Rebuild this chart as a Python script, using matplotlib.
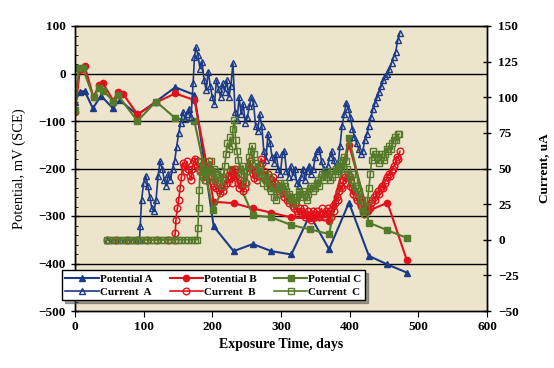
import matplotlib
matplotlib.use("Agg")
import matplotlib.pyplot as plt
from matplotlib.ticker import MultipleLocator

plt.rcParams['font.family'] = ['Liberation Serif', 'DejaVu Serif']

# potential readings (mV vs SCE)
pa_days = [0, 7, 14, 26, 38, 55, 65, 91, 118, 146, 174, 202, 231, 259, 286, 315, 342, 370, 399, 428, 455, 483]
pa_mv = [-60, -38, -37, -73, -47, -73, -56, -87, -59, -29, -45, -322, -374, -359, -374, -381, -298, -370, -272, -384, -402, -419]

pb_days = [0, 7, 14, 27, 35, 41, 56, 62, 70, 91, 118, 146, 174, 202, 231, 259, 286, 315, 342, 370, 399, 426, 455, 483]
pb_mv = [-82, 7, 16, -50, -24, -21, -58, -38, -43, -86, -61, -42, -56, -270, -273, -284, -293, -303, -305, -310, -150, -290, -272, -392]

pc_days = [0, 5, 11, 27, 35, 41, 56, 62, 91, 118, 146, 174, 201, 229, 259, 286, 315, 342, 370, 399, 428, 455, 483]
pc_mv = [-77, 12, 12, -50, -31, -36, -59, -45, -100, -59, -94, -101, -287, -200, -298, -303, -319, -328, -338, -136, -314, -330, -346]

# current readings (uA)
ca_days = [47, 55, 65, 75, 85, 94, 95, 97, 100, 103, 106, 109, 112, 115, 118, 121, 124, 127, 130, 133,
           136, 139, 142, 145, 148, 151, 154, 157, 160, 163, 166, 169, 172, 174, 176, 179, 182, 185, 188, 191,
           194, 197, 200, 203, 206, 209, 212, 215, 218, 221, 224, 227, 230, 233, 236, 239, 242, 245, 248, 251,
           254, 257, 260, 263, 266, 269, 272, 275, 278, 281, 284, 287, 290, 293, 296, 299, 302, 305, 308, 311,
           314, 317, 320, 323, 326, 329, 332, 335, 338, 341, 344, 347, 350, 353, 356, 359, 362, 365, 368, 371,
           374, 377, 380, 383, 386, 389, 392, 395, 398, 401, 404, 407, 410, 413, 416, 419, 422, 425, 428, 431,
           434, 437, 440, 443, 446, 449, 452, 455, 458, 461, 464, 467, 470, 473]
ca_ua = [0, 0, 0, 0, 0, 0, 10, 28, 40, 45, 38, 30, 22, 20, 28, 45, 55, 50, 42, 38,
         46, 42, 50, 55, 65, 75, 82, 90, 85, 88, 92, 86, 110, 128, 135, 130, 120, 125, 112, 105,
         118, 108, 100, 95, 112, 106, 100, 110, 104, 112, 100, 108, 124, 90, 84, 100, 88, 95, 82, 86,
         94, 100, 96, 80, 76, 88, 80, 62, 56, 74, 68, 58, 54, 60, 50, 46, 60, 62, 48, 44,
         52, 45, 50, 40, 38, 44, 50, 42, 48, 52, 46, 50, 58, 62, 64, 55, 50, 48, 52, 58,
         62, 56, 50, 52, 66, 80, 88, 96, 92, 86, 78, 72, 68, 64, 60, 62, 70, 74, 80, 86,
         92, 96, 100, 104, 108, 112, 115, 116, 120, 124, 128, 132, 140, 145]

cb_days = [47, 60, 75, 90, 105, 120, 135, 145, 146, 147, 149, 151, 153, 155, 157, 159, 161, 163, 165, 167,
           169, 171, 173, 175, 177, 179, 181, 183, 185, 187, 189, 191, 193, 195, 197, 199, 201, 203, 205, 207,
           209, 211, 213, 215, 217, 219, 221, 223, 225, 227, 229, 231, 233, 235, 237, 239, 241, 243, 245, 247,
           249, 251, 253, 255, 257, 259, 261, 263, 265, 267, 269, 271, 273, 275, 277, 279, 281, 283, 285, 287,
           289, 291, 293, 295, 297, 299, 301, 303, 305, 307, 309, 311, 313, 315, 317, 319, 321, 323, 325, 327,
           329, 331, 333, 335, 337, 339, 341, 343, 345, 347, 349, 351, 353, 355, 357, 359, 361, 363, 365, 367,
           369, 371, 373, 375, 377, 379, 381, 383, 385, 387, 389, 391, 393, 395, 397, 399, 401, 403, 405, 407,
           409, 411, 413, 415, 417, 419, 421, 423, 425, 427, 429, 431, 433, 435, 437, 439, 441, 443, 445, 447,
           449, 451, 453, 455, 457, 459, 461, 463, 465, 467, 469, 471, 473]
cb_ua = [0, 0, 0, 0, 0, 0, 0, 0, 5, 14, 22, 28, 36, 44, 54, 52, 48, 55, 50, 45,
         42, 50, 55, 57, 52, 55, 50, 52, 46, 44, 42, 48, 52, 55, 50, 45, 40, 38, 36, 40,
         35, 33, 36, 34, 38, 42, 40, 45, 48, 44, 40, 46, 50, 45, 40, 36, 42, 38, 34, 36,
         40, 48, 52, 55, 50, 46, 43, 48, 42, 45, 52, 57, 54, 48, 45, 42, 46, 40, 38, 42,
         44, 40, 36, 38, 34, 32, 36, 34, 30, 32, 28, 26, 30, 28, 24, 22, 26, 20, 18, 22,
         20, 18, 22, 16, 18, 20, 16, 14, 18, 20, 16, 18, 20, 16, 18, 22, 18, 16, 20, 18,
         22, 20, 16, 24, 20, 26, 30, 28, 34, 38, 36, 42, 44, 40, 46, 44, 38, 36, 32, 34,
         30, 28, 30, 26, 24, 20, 18, 20, 22, 24, 22, 26, 28, 30, 28, 32, 34, 32, 36, 38,
         36, 40, 42, 44, 46, 45, 48, 50, 52, 55, 58, 57, 62]

cc_days = [47, 50, 55, 60, 65, 70, 75, 80, 85, 90, 95, 100, 105, 110, 115, 120, 125, 130, 135, 140,
           145, 150, 155, 160, 165, 170, 175, 178, 179, 180, 181, 182, 184, 186, 188, 190, 192, 194, 196, 198,
           200, 202, 204, 206, 208, 210, 212, 214, 216, 218, 220, 222, 224, 226, 228, 230, 232, 234, 236, 238,
           240, 242, 244, 246, 248, 250, 252, 254, 256, 258, 260, 262, 264, 266, 268, 270, 272, 274, 276, 278,
           280, 282, 284, 286, 288, 290, 292, 294, 296, 298, 300, 302, 304, 306, 308, 310, 312, 314, 316, 318,
           320, 322, 324, 326, 328, 330, 332, 334, 336, 338, 340, 342, 344, 346, 348, 350, 352, 354, 356, 358,
           360, 362, 364, 366, 368, 370, 372, 374, 376, 378, 380, 382, 384, 386, 388, 390, 392, 394, 396, 398,
           400, 402, 404, 406, 408, 410, 412, 414, 416, 418, 420, 422, 424, 426, 428, 430, 432, 434, 436, 438,
           440, 442, 444, 446, 448, 450, 452, 454, 456, 458, 460, 462, 464, 466, 468, 470, 472]
cc_ua = [0, 0, 0, 0, 0, 0, 0, 0, 0, 0, 0, 0, 0, 0, 0, 0, 0, 0, 0, 0,
         0, 0, 0, 0, 0, 0, 0, 0, 8, 22, 35, 48, 55, 45, 50, 42, 52, 48, 44, 55,
         48, 50, 42, 46, 40, 44, 48, 38, 44, 52, 60, 68, 64, 72, 66, 78, 84, 70, 62, 56,
         50, 46, 52, 44, 40, 48, 52, 58, 62, 66, 60, 54, 50, 46, 52, 48, 44, 40, 46, 42,
         38, 44, 36, 34, 38, 30, 28, 32, 36, 40, 38, 34, 40, 38, 34, 30, 32, 28, 26, 30,
         28, 26, 30, 34, 32, 30, 34, 32, 30, 28, 32, 36, 38, 34, 38, 36, 40, 42, 38, 44,
         46, 42, 46, 48, 44, 46, 42, 44, 48, 46, 50, 48, 52, 54, 50, 56, 58, 55, 50, 46,
         44, 42, 46, 42, 38, 36, 32, 34, 28, 24, 20, 18, 22, 28, 36, 46, 56, 62, 58, 60,
         58, 54, 56, 60, 58, 56, 60, 64, 62, 66, 64, 68, 70, 72, 70, 74, 74]

blue = '#1c3a8a'
red = '#e3101c'
green = '#557a2a'

fig = plt.figure(figsize=(5.54, 3.68), dpi=100)
ax = fig.add_axes([75 / 554, 57 / 368, 412 / 554, 285 / 368])
ax.set_facecolor('#ece5cc')

lp_a, = ax.plot(pa_days, pa_mv, color=blue, marker='^', ms=4.5, lw=1.5, label='Potential A')
lp_b, = ax.plot(pb_days, pb_mv, color=red, marker='o', ms=4.5, lw=1.5, label='Potential B')
lp_c, = ax.plot(pc_days, pc_mv, color=green, marker='s', ms=4, lw=1.5, label='Potential C')

ax.set_xlim(0, 600)
ax.set_ylim(-500, 100)
ax.xaxis.set_major_locator(MultipleLocator(100))
ax.yaxis.set_major_locator(MultipleLocator(100))
ax.yaxis.set_minor_locator(MultipleLocator(20))
for y in [0, -100, -200, -300, -400]:
    ax.axhline(y, color='black', lw=1, zorder=0.5)
ax.tick_params(axis='y', direction='inout', length=6, width=1, labelsize=9.5)
ax.tick_params(axis='y', which='minor', direction='in', length=2.5)
ax.tick_params(axis='x', direction='out', length=4, labelsize=9.5)
for lab in ax.get_xticklabels() + ax.get_yticklabels():
    lab.set_fontweight('bold')
ax.set_ylabel('Potential, mV (SCE)', fontsize=10.5, labelpad=9)
ax.set_xlabel('Exposure Time, days', fontsize=10, fontweight='bold', labelpad=3)

ax2 = ax.twinx()
lc_a, = ax2.plot(ca_days, ca_ua, color=blue, marker='^', ms=4.8, mfc='none', mew=1, lw=1.2, label='Current  A')
lc_b, = ax2.plot(cb_days, cb_ua, color=red, marker='o', ms=4.8, mfc='none', mew=1, lw=1.2, label='Current  B')
lc_c, = ax2.plot(cc_days, cc_ua, color=green, marker='s', ms=4.3, mfc='none', mew=1, lw=1.2, label='Current  C')
ax2.set_ylim(-50, 150)
ax2.yaxis.set_major_locator(MultipleLocator(25))
ax2.tick_params(axis='y', direction='inout', length=6, width=1, labelsize=9.5, pad=5)
for lab in ax2.get_yticklabels():
    lab.set_fontweight('bold')
ax2.set_ylabel('Current, uA', fontsize=9.5, fontweight='bold', labelpad=14)

for a in (ax, ax2):
    for s in a.spines.values():
        s.set_linewidth(1)

leg = ax2.legend(handles=[lp_a, lc_a, lp_b, lc_b, lp_c, lc_c], ncol=3,
                 bbox_to_anchor=(62 / 554, 68 / 368, 303 / 554, 38 / 368),
                 bbox_transform=fig.transFigure, mode='expand', loc='lower left',
                 fancybox=False, shadow=True, framealpha=1, edgecolor='black',
                 prop={'weight': 'bold', 'size': 8}, handlelength=3.0,
                 handletextpad=0.1, columnspacing=0.6, labelspacing=0.3,
                 borderpad=0.3, borderaxespad=0)
leg.get_frame().set_linewidth(1)

fig.savefig('out.png', dpi=100)
